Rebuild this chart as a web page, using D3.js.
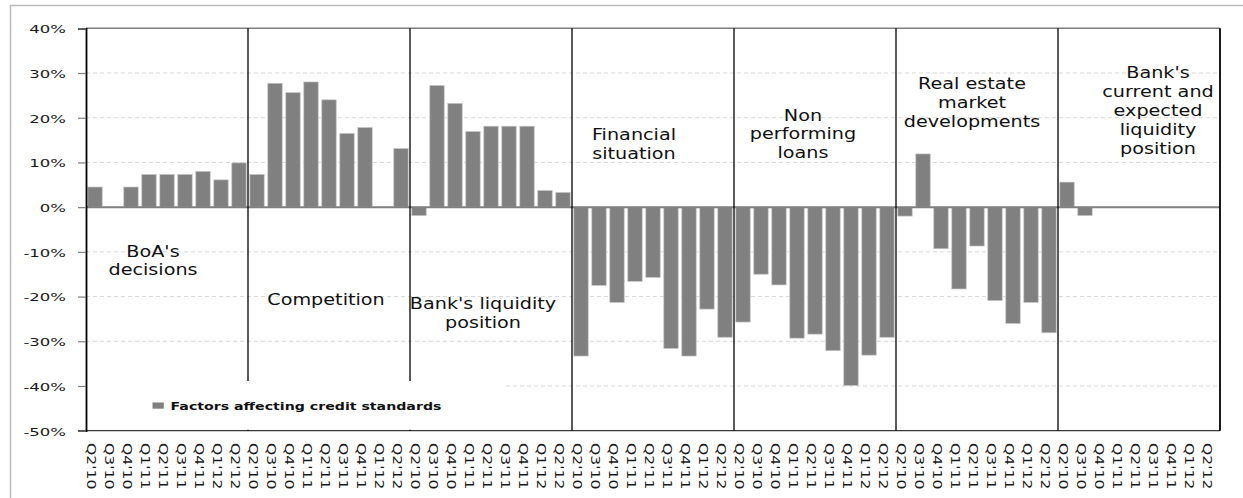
<!DOCTYPE html>
<html>
<head>
<meta charset="utf-8">
<script src="https://cdn.jsdelivr.net/npm/d3@7"></script>
<style>
  html, body { margin: 0; padding: 0; background: #fff; }
  svg { display: block; }
</style>
</head>
<body>
<svg id="chart" width="1243" height="498"></svg>
<script>
// Survey quarters repeated inside every factor block
const quarters = ["Q2'10", "Q3'10", "Q4'10", "Q1'11", "Q2'11", "Q3'11", "Q4'11", "Q1'12", "Q2'12"];

// Factor blocks, left to right
const factors = [
  "BoA's decisions",
  "Competition",
  "Bank's liquidity position",
  "Financial situation",
  "Non performing loans",
  "Real estate market developments",
  "Bank's current and expected liquidity position"
];

// Block captions split into lines
const factorLines = [
  ["BoA's", "decisions"],
  ["Competition"],
  ["Bank's liquidity", "position"],
  ["Financial", "situation"],
  ["Non", "performing", "loans"],
  ["Real estate", "market", "developments"],
  ["Bank's", "current and", "expected", "liquidity", "position"]
];

// Net balance (%) per factor, one value per quarter
const boaDecisions       = [4.5, 0, 4.5, 7.3, 7.3, 7.3, 8.0, 6.1, 9.9];
const competition        = [7.3, 27.7, 25.6, 28.0, 24.0, 16.5, 17.8, 0, 13.1];
const liquidityPosition  = [-1.9, 27.2, 23.2, 16.9, 18.1, 18.1, 18.1, 3.7, 3.3];
const financialSituation = [-33.3, -17.5, -21.3, -16.6, -15.7, -31.6, -33.3, -22.8, -29.1];
const nonPerformingLoans = [-25.7, -15.0, -17.4, -29.3, -28.4, -32.1, -39.9, -33.1, -29.1];
const realEstateMarket   = [-2.0, 11.9, -9.3, -18.3, -8.7, -20.9, -26.0, -21.3, -28.1];
const expectedLiquidity  = [5.6, -1.9, 0, 0, 0, 0, 0, 0, 0];

const yTicks = [40, 30, 20, 10, 0, -10, -20, -30, -40, -50];
const legendLabel = "Factors affecting credit standards";

const series = [boaDecisions, competition, liquidityPosition, financialSituation,
                nonPerformingLoans, realEstateMarket, expectedLiquidity];

const rows = factors.flatMap((f, gi) =>
  series[gi].map((v, qi) => ({ key: gi * quarters.length + qi, group: gi, quarter: quarters[qi], value: v })));

const W = 1243, H = 498;
const plot = { left: 86, right: 1220, top: 28.3, bottom: 430.7 };

const svg = d3.select("#chart");

// Outer frame of the figure
svg.append("path")
  .attr("d", `M10.5,${H + 5}V5.5H${W + 5}`)
  .attr("fill", "none").attr("stroke", "#bdbdbd").attr("stroke-width", 1.6);

const x = d3.scaleBand()
  .domain(rows.map(d => d.key))
  .range([plot.left, plot.right])
  .paddingInner(0.2)
  .paddingOuter(0.1);

const y = d3.scaleLinear().domain([-50, 40]).range([plot.bottom, plot.top]);

const halfGap = (x.step() - x.bandwidth()) / 2;
const groupEdge = gi => x(gi * quarters.length) - halfGap;

// Dashed horizontal gridlines
svg.append("g").selectAll("line")
  .data(yTicks.filter(t => t !== 40 && t !== -50 && t !== 0))
  .join("line")
  .attr("x1", plot.left).attr("x2", plot.right)
  .attr("y1", d => y(d)).attr("y2", d => y(d))
  .attr("stroke", "#d9d9d9").attr("stroke-width", 1)
  .attr("stroke-dasharray", "4,3");

// Top and bottom frame of the plot area
svg.append("line")
  .attr("x1", plot.left).attr("x2", plot.right)
  .attr("y1", y(40)).attr("y2", y(40))
  .attr("stroke", "#7f7f7f").attr("stroke-width", 1.5);
svg.append("line")
  .attr("x1", plot.left).attr("x2", plot.right)
  .attr("y1", y(-50)).attr("y2", y(-50))
  .attr("stroke", "#3a3a3a").attr("stroke-width", 1.2);

// Bars
svg.append("g").selectAll("rect")
  .data(rows.filter(d => d.value !== 0))
  .join("rect")
  .attr("x", d => x(d.key))
  .attr("width", x.bandwidth())
  .attr("y", d => y(Math.max(0, d.value)))
  .attr("height", d => Math.abs(y(d.value) - y(0)))
  .attr("fill", "#808080")
  .attr("stroke", "#c4c4c4").attr("stroke-width", 0.7);

// Zero line
svg.append("line")
  .attr("x1", plot.left).attr("x2", plot.right)
  .attr("y1", y(0)).attr("y2", y(0))
  .attr("stroke", "#808080").attr("stroke-width", 2);

// Block separators and right border
svg.append("g").selectAll("line")
  .data(d3.range(1, factors.length + 1))
  .join("line")
  .attr("x1", d => d === factors.length ? plot.right : groupEdge(d))
  .attr("x2", d => d === factors.length ? plot.right : groupEdge(d))
  .attr("y1", y(40)).attr("y2", y(-50))
  .attr("stroke", "#000").attr("stroke-width", d => d === factors.length ? 1.8 : 1.3);

// Legend panel
svg.append("rect")
  .attr("x", plot.left + 1).attr("y", 381)
  .attr("width", 417).attr("height", y(-50) - 381 - 1)
  .attr("fill", "#fff");
svg.append("rect")
  .attr("x", 152.5).attr("y", 402.5).attr("width", 11.3).attr("height", 6.2)
  .attr("fill", "#808080");
const legendText = svg.append("text")
  .attr("font-family", "DejaVu Sans, sans-serif").attr("font-weight", "bold")
  .attr("font-size", 10).attr("fill", "#111")
  .text(legendLabel);
{
  const natural = legendText.node().getComputedTextLength();
  legendText.attr("transform", `translate(170.5,410) scale(${271 / natural},1)`);
}

// Y axis
const yAxis = svg.append("g")
  .attr("transform", `translate(${plot.left},0)`)
  .call(d3.axisLeft(y).tickValues(yTicks).tickSize(8).tickPadding(0).tickFormat(d => d + "%"));
yAxis.select(".domain").attr("stroke", "#000").attr("stroke-width", 1.8);
yAxis.selectAll(".tick line").attr("stroke", "#7f7f7f").attr("stroke-width", 1.2);
yAxis.selectAll(".tick text")
  .attr("x", null).attr("dy", null)
  .attr("dominant-baseline", "central")
  .attr("font-family", "DejaVu Sans, sans-serif").attr("font-size", 11)
  .attr("fill", "#1a1a1a")
  .attr("text-anchor", "end")
  .attr("transform", "translate(-20,0.5) scale(1.5,1)");

// X axis with rotated quarter labels
const xAxis = svg.append("g")
  .attr("transform", `translate(0,${plot.bottom})`)
  .call(d3.axisBottom(x).tickSize(0).tickFormat(k => rows[k].quarter));
xAxis.select(".domain").remove();
xAxis.selectAll(".tick text")
  .attr("y", null).attr("dy", "0.35em")
  .attr("text-anchor", "start")
  .attr("font-family", "DejaVu Sans, sans-serif").attr("font-size", 11.5)
  .attr("fill", "#1a1a1a")
  .attr("transform", "translate(-3.6,12.3) rotate(90) scale(1.36,1)");

// Block captions
const captionLayout = [
  { dx: -14, y: 256.5 },
  { dx: -3,  y: 305.3 },
  { dx: -8,  y: 309 },
  { dx: -19, y: 140.3 },
  { dx: -12, y: 120.5 },
  { dx: -5,  y: 89 },
  { dx: 19,  y: 78.3 }
];
const lineGap = 18.9;
factors.forEach((f, gi) => {
  const cx = (groupEdge(gi) + (gi + 1 === factors.length ? plot.right : groupEdge(gi + 1))) / 2 + captionLayout[gi].dx;
  factorLines[gi].forEach((line, li) => {
    svg.append("text")
      .attr("transform", `translate(${cx},${captionLayout[gi].y + li * lineGap}) scale(1.28,1)`)
      .attr("text-anchor", "middle")
      .attr("font-family", "DejaVu Sans, sans-serif").attr("font-size", 15)
      .attr("fill", "#111")
      .text(line);
  });
});
</script>
</body>
</html>
